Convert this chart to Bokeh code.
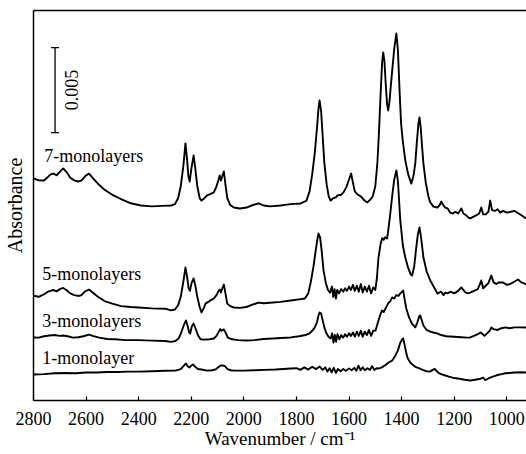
from math import pi
from bokeh.plotting import figure
from bokeh.models import Range1d, FixedTicker, LinearAxis, Label
from bokeh.embed import file_html
from bokeh.resources import INLINE

# ---------------- data (absorbance in units of 0.001) ----------------
x_ticks = [2800, 2600, 2400, 2200, 2000, 1800, 1600, 1400, 1200, 1000]
series_labels = ["7-monolayers", "5-monolayers", "3-monolayers", "1-monolayer"]
x_title = "Wavenumber / cm\u207b\u00b9"
y_title = "Absorbance"
scale_bar_value = 0.005
scale_bar_label = "0.005"

wn_7 = [2800, 2780, 2760, 2745, 2735, 2725, 2712, 2700, 2687, 2675, 2660, 2645, 2630, 2617, 2603, 2589, 2575, 2555, 2530, 2500,
        2467, 2430, 2391, 2350, 2310, 2277, 2262, 2250, 2240, 2230, 2222, 2216, 2211, 2206, 2200, 2191, 2185, 2177, 2168, 2161,
        2150, 2140, 2126, 2114, 2104, 2096, 2092, 2087, 2082, 2076, 2070, 2063, 2052, 2038, 2015, 1990, 1965, 1944, 1925, 1900,
        1860, 1822, 1784, 1762, 1750, 1740, 1730, 1722, 1716, 1712, 1706, 1700, 1694, 1685, 1677, 1670, 1660, 1650, 1644, 1630,
        1621, 1610, 1600, 1592, 1585, 1578, 1570, 1555, 1540, 1530, 1520, 1510, 1500, 1492, 1486, 1480, 1474, 1470, 1465, 1460,
        1455, 1451, 1446, 1440, 1434, 1428, 1420, 1414, 1408, 1402, 1395, 1386, 1375, 1363, 1355, 1348, 1342, 1336, 1332, 1327,
        1322, 1317, 1308, 1298, 1291, 1279, 1264, 1255, 1249, 1242, 1234, 1225, 1215, 1205, 1195, 1185, 1173, 1165, 1155, 1145,
        1139, 1128, 1115, 1105, 1097, 1090, 1080, 1070, 1063, 1056, 1045, 1035, 1025, 1014, 1000, 985, 970, 955, 940, 927]
abs_7 = [13.06, 12.95, 12.94, 13.15, 13.3, 13.35, 13.25, 13.45, 13.65, 13.45, 13.1, 12.95, 12.88, 12.95, 13.2, 13.35, 13.1, 12.75, 12.4, 12.1,
         11.85, 11.6, 11.47, 11.42, 11.45, 11.47, 11.55, 11.9, 12.6, 13.8, 15.12, 14.2, 13.2, 12.88, 13.6, 14.41, 13.7, 12.6, 11.9, 11.76,
         11.9, 12.06, 12.15, 12.24, 12.6, 13.0, 13.24, 12.94, 13.2, 13.47, 12.7, 11.9, 11.5, 11.35, 11.29, 11.35, 11.5, 11.6, 11.47, 11.42,
         11.47, 11.55, 11.59, 11.75, 12.3, 13.3, 14.6, 16.0, 17.2, 17.65, 17.0, 15.5, 14.0, 12.7, 12.0, 11.76, 11.9, 11.95, 12.06, 12.1,
         12.24, 12.55, 13.0, 13.35, 12.8, 12.3, 12.15, 12.0, 11.75, 11.65, 11.8, 12.0, 12.6, 14.0, 15.8, 18.0, 19.9, 20.47, 19.9, 18.5,
         17.4, 17.06, 17.6, 18.7, 19.7, 20.7, 21.59, 20.6, 18.3, 16.3, 15.2, 14.12, 13.3, 12.76, 13.2, 13.94, 15.2, 16.3, 16.65, 16.0,
         14.9, 13.94, 12.8, 12.0, 11.65, 11.4, 11.35, 11.5, 11.7, 11.5, 11.35, 11.3, 11.05, 11.0, 11.1, 11.0, 11.3, 11.0, 10.9, 10.75,
         10.71, 10.8, 10.9, 11.0, 11.35, 10.95, 10.95, 11.1, 11.76, 11.2, 11.15, 11.25, 11.05, 11.15, 11.05, 11.1, 11.15, 11.0, 10.85, 10.7]

wn_5 = [2800, 2780, 2760, 2745, 2735, 2725, 2712, 2700, 2687, 2675, 2660, 2645, 2630, 2619, 2605, 2589, 2575, 2555, 2530, 2500,
        2467, 2430, 2400, 2350, 2300, 2277, 2262, 2250, 2240, 2230, 2222, 2216, 2210, 2205, 2199, 2191, 2185, 2177, 2168, 2161,
        2152, 2145, 2135, 2126, 2114, 2104, 2096, 2092, 2087, 2082, 2076, 2070, 2063, 2052, 2038, 2015, 1990, 1965, 1944, 1925,
        1900, 1860, 1822, 1790, 1768, 1755, 1745, 1735, 1726, 1720, 1716, 1710, 1704, 1697, 1688, 1680, 1672, 1665, 1660, 1655,
        1650, 1645, 1638, 1630, 1622, 1615, 1608, 1600, 1593, 1585, 1578, 1570, 1563, 1555, 1548, 1540, 1532, 1524, 1516, 1508,
        1500, 1494, 1488, 1480, 1474, 1468, 1462, 1455, 1450, 1443, 1436, 1428, 1420, 1414, 1405, 1395, 1386, 1375, 1365, 1360,
        1352, 1345, 1338, 1332, 1326, 1317, 1305, 1291, 1278, 1264, 1250, 1240, 1234, 1225, 1215, 1200, 1185, 1173, 1160, 1150,
        1139, 1125, 1110, 1097, 1090, 1080, 1070, 1059, 1050, 1040, 1030, 1014, 1000, 987, 970, 957, 945, 935, 927]
abs_5 = [6.16, 6.1, 6.25, 6.4, 6.45, 6.5, 6.42, 6.55, 6.62, 6.5, 6.3, 6.2, 6.15, 6.18, 6.4, 6.53, 6.35, 6.1, 5.85, 5.7,
         5.55, 5.5, 5.47, 5.42, 5.4, 5.3, 5.35, 5.6, 6.1, 7.0, 7.82, 7.3, 6.6, 6.45, 6.9, 7.18, 6.8, 6.1, 5.5, 5.18,
         5.45, 5.71, 5.8, 5.9, 6.0, 6.2, 6.45, 6.53, 6.35, 6.6, 6.82, 6.3, 5.7, 5.55, 5.47, 5.45, 5.5, 5.65, 5.76, 5.72,
         5.75, 5.8, 5.88, 5.95, 6.0, 6.3, 7.0, 7.9, 8.9, 9.5, 9.82, 9.6, 8.8, 7.65, 6.9, 6.5, 6.35, 6.7, 6.1, 6.55,
         6.0, 6.5, 6.3, 6.55, 6.4, 6.6, 6.45, 6.7, 6.5, 6.8, 6.45, 6.75, 6.4, 6.85, 6.35, 6.7, 6.4, 6.75, 6.3, 6.65,
         6.5, 7.2, 8.41, 9.2, 9.55, 9.45, 9.6, 9.53, 10.1, 11.0, 12.0, 13.0, 13.53, 12.9, 10.59, 9.1, 8.41, 7.8, 7.4, 7.35,
         7.9, 8.9, 9.8, 10.18, 9.6, 8.41, 7.6, 7.06, 6.7, 6.29, 6.4, 6.2, 6.35, 6.3, 6.4, 6.3, 6.45, 6.65, 6.4, 6.3,
         6.35, 6.45, 6.55, 7.06, 6.6, 6.75, 6.9, 7.35, 6.95, 6.85, 6.95, 6.94, 6.8, 6.85, 7.0, 7.12, 6.95, 6.9, 6.82]

wn_3 = [2800, 2780, 2760, 2740, 2720, 2700, 2687, 2670, 2650, 2630, 2610, 2589, 2575, 2550, 2520, 2490, 2450, 2400, 2350, 2300,
        2277, 2260, 2248, 2238, 2228, 2220, 2214, 2208, 2204, 2198, 2191, 2184, 2175, 2165, 2150, 2130, 2114, 2104, 2095, 2090,
        2085, 2080, 2076, 2068, 2061, 2045, 2020, 1990, 1960, 1925, 1890, 1860, 1822, 1790, 1765, 1750, 1740, 1730, 1722, 1716,
        1712, 1706, 1700, 1694, 1686, 1678, 1670, 1664, 1659, 1654, 1649, 1644, 1637, 1630, 1622, 1615, 1608, 1600, 1593, 1585,
        1578, 1570, 1563, 1555, 1548, 1540, 1532, 1524, 1516, 1508, 1499, 1490, 1482, 1475, 1468, 1460, 1451, 1443, 1436, 1428,
        1420, 1412, 1405, 1398, 1394, 1388, 1382, 1372, 1360, 1348, 1340, 1333, 1329, 1324, 1317, 1305, 1291, 1279, 1265, 1250,
        1230, 1200, 1173, 1150, 1139, 1125, 1110, 1100, 1095, 1085, 1075, 1065, 1059, 1050, 1035, 1020, 1005, 990, 970, 950, 927]
abs_3 = [3.71, 3.7, 3.78, 3.82, 3.85, 3.8, 3.82, 3.78, 3.7, 3.72, 3.78, 3.88, 3.8, 3.7, 3.62, 3.6, 3.55, 3.55, 3.52, 3.5,
         3.45, 3.5, 3.65, 4.0, 4.45, 4.71, 4.4, 4.0, 3.94, 4.35, 4.53, 4.25, 3.85, 3.6, 3.58, 3.6, 3.65, 3.8, 4.05, 4.2,
         4.1, 4.15, 4.18, 3.95, 3.7, 3.6, 3.55, 3.53, 3.55, 3.62, 3.65, 3.68, 3.71, 3.78, 3.85, 3.95, 4.1, 4.3, 4.6, 5.0,
         5.18, 5.1, 4.7, 4.3, 3.95, 3.75, 3.65, 3.95, 3.4, 3.85, 3.45, 3.9, 3.6, 3.85, 3.7, 3.9, 3.75, 3.95, 3.8, 4.0,
         3.75, 4.05, 3.8, 4.1, 3.75, 4.05, 3.85, 4.15, 3.8, 4.1, 4.12, 4.6, 5.0, 5.29, 5.2, 5.45, 5.71, 5.85, 6.06, 6.0,
         6.2, 6.15, 6.3, 6.4, 6.47, 5.9, 5.4, 4.9, 4.5, 4.3, 4.6, 4.95, 5.0, 4.75, 4.41, 4.15, 4.05, 4.0, 3.95, 3.85,
         3.78, 3.75, 3.72, 3.7, 3.71, 3.8, 3.9, 4.0, 3.95, 3.8, 3.95, 4.1, 4.29, 4.2, 4.15, 4.25, 4.3, 4.25, 4.3, 4.3, 4.29]

wn_1 = [2800, 2760, 2720, 2680, 2640, 2600, 2560, 2520, 2480, 2440, 2400, 2350, 2300, 2260, 2240, 2228, 2220, 2213, 2207, 2200,
        2193, 2185, 2175, 2161, 2140, 2120, 2105, 2095, 2088, 2080, 2072, 2062, 2050, 2038, 2000, 1960, 1920, 1880, 1850, 1822,
        1800, 1785, 1770, 1755, 1740, 1725, 1712, 1700, 1690, 1682, 1674, 1666, 1658, 1650, 1642, 1632, 1622, 1612, 1600, 1590,
        1580, 1572, 1564, 1556, 1548, 1540, 1530, 1520, 1512, 1504, 1495, 1488, 1475, 1460, 1448, 1436, 1425, 1414, 1405, 1398,
        1394, 1389, 1383, 1378, 1368, 1358, 1348, 1335, 1320, 1305, 1292, 1282, 1274, 1265, 1255, 1240, 1220, 1200, 1180, 1160,
        1139, 1120, 1100, 1090, 1082, 1072, 1063, 1050, 1035, 1020, 1005, 990, 970, 950, 927]
abs_1 = [1.53, 1.55, 1.6, 1.62, 1.6, 1.65, 1.65, 1.68, 1.68, 1.7, 1.7, 1.72, 1.75, 1.76, 1.85, 2.05, 2.18, 2.0, 1.94, 2.05,
         2.12, 1.98, 1.85, 1.82, 1.76, 1.78, 1.85, 1.98, 2.06, 2.06, 2.02, 1.85, 1.78, 1.76, 1.76, 1.78, 1.8, 1.82, 1.85, 1.88,
         1.9, 1.8, 1.95, 1.82, 1.98, 1.85, 2.0, 1.8, 1.95, 1.7, 1.9, 1.65, 1.92, 1.62, 1.85, 1.72, 1.85, 1.75, 1.88, 1.78,
         1.92, 1.75, 2.05, 1.78, 1.95, 1.78, 1.9, 1.8, 2.02, 1.8, 1.9, 1.88, 1.95, 2.1, 2.25, 2.35, 2.6, 2.95, 3.4, 3.6,
         3.65, 3.3, 2.85, 2.53, 2.25, 2.1, 1.98, 1.9, 1.8, 1.72, 1.7, 1.8, 1.86, 1.7, 1.58, 1.5, 1.4, 1.32, 1.28, 1.22,
         1.18, 1.22, 1.28, 1.35, 1.2, 1.28, 1.35, 1.42, 1.5, 1.55, 1.6, 1.62, 1.65, 1.66, 1.65]

# text anchors (wavenumber, absorbance in 0.001)
label_wn = [2759, 2767, 2767, 2767]
label_abs = [14.38, 7.44, 4.67, 2.5]
scale_bar_wn = 2718
scale_bar_bottom = 15.76

MILLI = 0.001
FONT = "Liberation Serif"

p = figure(width=526, height=454, output_backend="svg", toolbar_location=None,
           x_range=Range1d(2800, 925), y_range=Range1d(0, 22.94 * MILLI),
           min_border_left=32, min_border_right=0, min_border_top=10, min_border_bottom=54)
p.outline_line_color = None
p.grid.visible = False
p.background_fill_color = "white"
p.border_fill_color = "white"

xa = p.xaxis[0]
xa.ticker = FixedTicker(ticks=x_ticks)
xa.major_tick_in = 4
xa.major_tick_out = 0
xa.minor_tick_line_color = None
xa.axis_line_width = 1.5
xa.major_tick_line_width = 1.2
xa.major_label_text_font = FONT
xa.major_label_text_font_size = "18px"
xa.major_label_text_color = "black"
xa.major_label_standoff = 11
xa.axis_label = x_title
xa.axis_label_text_font = FONT
xa.axis_label_text_font_size = "19px"
xa.axis_label_text_font_style = "normal"
xa.axis_label_text_color = "black"
xa.axis_label_standoff = 0

ya = p.yaxis[0]
ya.ticker = FixedTicker(ticks=[])
ya.major_tick_out = 0
ya.major_tick_in = 0
ya.minor_tick_line_color = None
ya.major_label_standoff = 0
ya.axis_line_width = 1.5
ya.axis_label = y_title
ya.axis_label_text_font = FONT
ya.axis_label_text_font_size = "20px"
ya.axis_label_text_font_style = "normal"
ya.axis_label_text_color = "black"
ya.axis_label_standoff = 8

top = LinearAxis(ticker=FixedTicker(ticks=[]), major_tick_out=0, major_tick_in=0,
                 minor_tick_line_color=None, major_label_standoff=0, axis_line_width=1.5)
p.add_layout(top, "above")

for wn, a in [(wn_7, abs_7), (wn_5, abs_5), (wn_3, abs_3), (wn_1, abs_1)]:
    p.line(wn, [v * MILLI for v in a], line_color="black", line_width=1.9, line_join="round")

for txt, lx, ly in zip(series_labels, label_wn, label_abs):
    p.add_layout(Label(x=lx, y=ly * MILLI, text=txt, text_font=FONT, text_font_size="18px",
                       text_color="black", text_baseline="alphabetic", text_align="left"))

# scale bar
sb_y0 = scale_bar_bottom * MILLI
sb_y1 = sb_y0 + scale_bar_value
p.segment(x0=[scale_bar_wn], y0=[sb_y0], x1=[scale_bar_wn], y1=[sb_y1], line_color="black", line_width=1.3)
p.scatter(x=[scale_bar_wn, scale_bar_wn], y=[sb_y0, sb_y1], marker="dash", size=8, line_color="black", line_width=1.3)
p.add_layout(Label(x=2655, y=(sb_y0 + sb_y1) / 2, text=scale_bar_label, angle=pi / 2, text_font=FONT,
                   text_font_size="18px", text_color="black", text_align="center", text_baseline="middle"))

open("out.html", "w").write(file_html(p, INLINE))
